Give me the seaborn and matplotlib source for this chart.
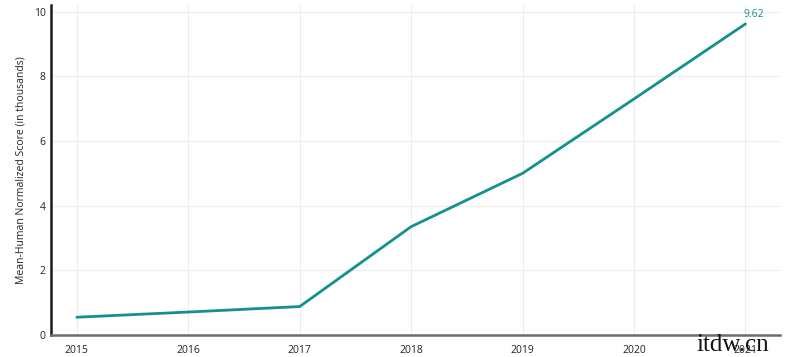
import matplotlib
matplotlib.use('Agg')
import matplotlib.pyplot as plt
import pandas as pd
import seaborn as sns

# Values
years = [2015, 2016, 2017, 2018, 2019, 2020, 2021]
scores = [0.55, 0.71, 0.88, 3.35, 5.0, 7.3, 9.62]
x_ticks = [2015, 2016, 2017, 2018, 2019, 2020, 2021]
y_ticks = [0, 2, 4, 6, 8, 10]

df = pd.DataFrame({'year': years, 'score': scores})

sns.set_style('white')
plt.rcParams['font.family'] = ['Open Sans', 'DejaVu Sans']

teal = '#14908e'

fig = plt.figure(figsize=(8, 3.57), dpi=100)
ax = fig.add_axes([0.064, 0.0616, 0.911, 0.924])

sns.lineplot(data=df, x='year', y='score', color=teal, linewidth=2.0, ax=ax)

# label on the last point
ax.annotate(f'{scores[-1]:.2f}', (years[-1], scores[-1]), xytext=(6, 3),
            textcoords='offset points', ha='center', va='bottom',
            color=teal, fontsize=7.5)

ax.set_xlim(2014.77, 2021.31)
ax.set_ylim(0, 10.2)
ax.set_xticks(x_ticks)
ax.set_yticks(y_ticks)
ax.tick_params(axis='both', length=0, labelsize=7.5, colors='#222222')
ax.tick_params(axis='x', pad=7)
ax.tick_params(axis='y', pad=4)

ax.set_xlabel('')
ax.set_ylabel('Mean-Human Normalized Score (in thousands)', fontsize=7.5, color='#222222', labelpad=5)

ax.grid(True, color='#ededed', linewidth=0.8)
for side in ['top', 'right']:
    ax.spines[side].set_visible(False)
ax.spines['left'].set_color('#1a1a1a')
ax.spines['left'].set_linewidth(1.8)
ax.spines['bottom'].set_color('#6e6a6e')
ax.spines['bottom'].set_linewidth(1.8)

# watermark text in the corner of the source image
fig.text(0.87, 0.004, 'itdw.cn', family=['Liberation Serif', 'DejaVu Serif'],
         fontsize=18, color='#111111', ha='left', va='bottom')

fig.savefig('out.png', dpi=100)
